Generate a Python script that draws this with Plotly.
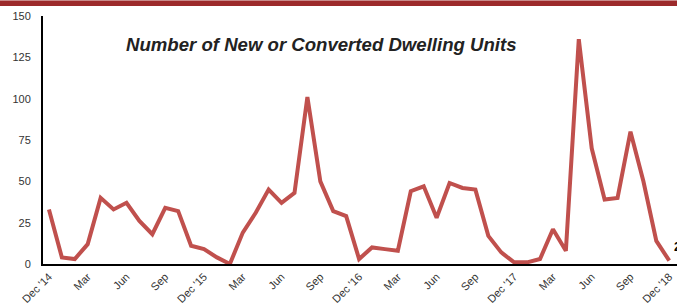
import plotly.graph_objects as go

months = ["Dec '14","Jan","Feb","Mar","Apr","May","Jun","Jul","Aug","Sep","Oct","Nov",
          "Dec '15","Jan","Feb","Mar","Apr","May","Jun","Jul","Aug","Sep","Oct","Nov",
          "Dec '16","Jan","Feb","Mar","Apr","May","Jun","Jul","Aug","Sep","Oct","Nov",
          "Dec '17","Jan","Feb","Mar","Apr","May","Jun","Jul","Aug","Sep","Oct","Nov",
          "Dec '18"]
units = [33, 4, 3, 12, 40, 33, 37, 26, 18, 34, 32, 11,
         9, 4, 0, 19, 31, 45, 37, 43, 101, 50, 32, 29,
         3, 10, 9, 8, 44, 47, 28, 49, 46, 45, 17, 7,
         1, 1, 3, 21, 8, 136, 70, 39, 40, 80, 50, 14,
         2]
tick_idx = list(range(0, len(months), 3))
tick_text = [months[i] for i in tick_idx]
y_ticks = [0, 25, 50, 75, 100, 125, 150]
title_text = "Number of New or Converted Dwelling Units"

x = list(range(len(units)))

fig = go.Figure()
fig.add_trace(go.Scatter(x=x, y=units, mode="lines",
                         line=dict(color="#c0504d", width=4),
                         hoverinfo="skip", showlegend=False, cliponaxis=False))

W, H = 677, 303
ml, mr, mt, mb = 43, 0, 16, 39
ph = H - mt - mb
pw = W - ml - mr

fig.update_layout(
    width=W, height=H,
    margin=dict(l=ml, r=mr, t=mt, b=mb, pad=0, autoexpand=False),
    paper_bgcolor="white", plot_bgcolor="white",
    font=dict(family="Liberation Sans, Arial, sans-serif", size=11, color="#333333"),
    xaxis=dict(range=[-0.46, 48.6], tickmode="array", tickvals=tick_idx, ticktext=tick_text,
               tickangle=-45, showgrid=False, zeroline=False, showline=True, automargin=False,
               linecolor="black", linewidth=2, ticks="", tickfont=dict(size=11, color="#333333")),
    yaxis=dict(range=[0, 150], tickmode="array", tickvals=y_ticks, showgrid=False,
               zeroline=False, showline=True, linecolor="black", linewidth=2, automargin=False,
               ticks="outside", ticklen=8, tickcolor="white",
               tickfont=dict(size=11, color="#333333")),
)

# top decorative band
fig.add_shape(type="rect", xref="paper", yref="paper",
              x0=-ml / pw, x1=1.0, y0=1 + (mt - 6) / ph, y1=1 + mt / ph,
              fillcolor="#9c2a2b", line=dict(width=0), layer="above")
fig.add_shape(type="line", xref="paper", yref="paper",
              x0=-ml / pw, x1=1.0, y0=1 + (mt - 0.5) / ph, y1=1 + (mt - 0.5) / ph,
              line=dict(color="#c98a8a", width=1), layer="above")

fig.add_annotation(text="<b><i>" + title_text + "</i></b>", xref="paper", yref="paper",
                   x=(321 - ml) / pw, y=1 - (44 - mt) / ph, showarrow=False,
                   xanchor="center", yanchor="middle",
                   font=dict(size=18.6, color="#222222", family="Liberation Sans, Arial, sans-serif"))

fig.add_annotation(text="<b>" + str(units[-1]) + "</b>", x=x[-1], y=units[-1], xref="x", yref="y",
                   showarrow=False, xanchor="left", yanchor="bottom", xshift=3, yshift=5,
                   font=dict(size=12, color="black"))

fig.write_html("out.html", config={"displayModeBar": False})

# remove default page margin so the figure sits at the window's top-left corner
with open("out.html", "r", encoding="utf-8") as f:
    html = f.read()
html = html.replace("<head>", "<head><style>html,body{margin:0;padding:0;overflow:hidden;}</style>", 1)
with open("out.html", "w", encoding="utf-8") as f:
    f.write(html)
